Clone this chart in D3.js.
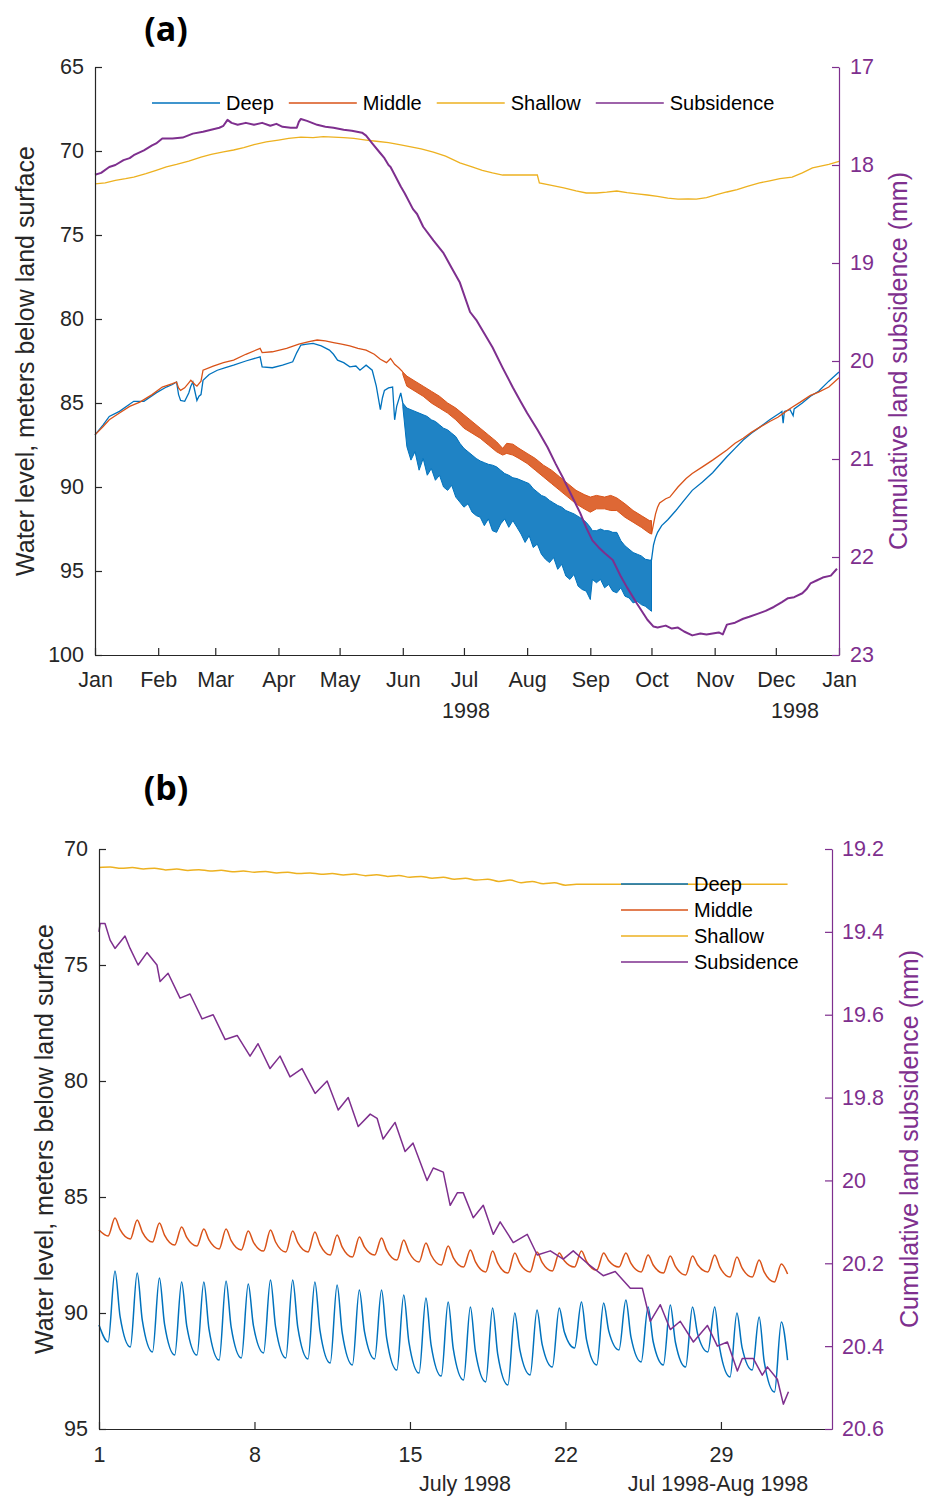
<!DOCTYPE html>
<html>
<head>
<meta charset="utf-8">
<script src="https://cdn.jsdelivr.net/npm/d3@7"></script>
<style>
  html, body { margin: 0; padding: 0; background: #fff; }
  svg text { font-family: "Liberation Sans", Arial, Helvetica, sans-serif; }
</style>
</head>
<body>
<div id="chart"></div>
<script>
"use strict";

// ---- series ----
var seriesNames = ["Deep", "Middle", "Shallow", "Subsidence"];
var seriesColors = ["#0072BD", "#D95319", "#EDB120", "#7E2F8E"];

// ---- panel (a): whole of 1998, x = day of year (0 = Jan 1) ----
var leftTicksA = [65, 70, 75, 80, 85, 90, 95, 100];
var rightTicksA = [17, 18, 19, 20, 21, 22, 23];

var deepPreA = [[0,86.9],[4,86.3],[7,85.8],[12,85.5],[19,84.9],[24,84.9],[30,84.4],[35,84.05],[38,83.9],[40,83.75],[41,84.5],[42,84.85],[44,84.9],[46,84.4],[47,84.0],[48,83.75],[49,84.3],[50,84.85],[51,84.6],[52,84.5],[53,83.65],[56,83.3],[60,83.05],[64,82.9],[68,82.75],[74,82.5],[81,82.25],[82,82.85],[87,82.9],[92,82.75],[97,82.55],[99,82.0],[101,81.55],[104,81.5],[107,81.45],[111,81.6],[115,81.85],[117,82.1],[119,82.45],[122,82.6],[125,82.85],[128,82.8],[130,83.05],[133,82.75],[136,83.05],[138,84.0],[140,85.4],[141,84.7],[142,84.25],[144,84.1],[146,84.05],[147,86.0],[148,85.2],[150,84.4],[151,85.0]];
// daily swing band: [day, upper edge, lower edge]
var deepBandA = [[151,85.0,85.2],[153,85.3,87.6],[155,85.4,88.4],[157,85.5,87.9],[159,85.6,89.0],[161,85.7,88.3],[163,85.8,89.3],[165,86.0,88.9],[167,86.1,89.6],[169,86.3,89.3],[171,86.5,90.0],[173,86.6,90.2],[175,86.8,89.9],[177,87.0,90.6],[179,87.4,90.9],[181,87.7,91.2],[183,87.9,91.0],[185,88.1,91.5],[187,88.3,91.7],[189,88.45,91.8],[191,88.55,92.3],[193,88.65,91.9],[195,88.7,92.6],[197,88.8,92.7],[199,89.0,92.2],[201,89.2,91.9],[203,89.3,92.4],[205,89.45,92.0],[207,89.5,92.4],[209,89.6,92.8],[211,89.7,93.3],[213,89.8,92.9],[215,90.1,93.6],[217,90.3,93.4],[219,90.5,94.0],[221,90.6,94.3],[223,90.8,94.5],[225,90.95,94.2],[227,91.1,94.9],[229,91.2,94.6],[231,91.4,95.3],[233,91.5,95.5],[235,91.6,95.2],[237,91.75,95.9],[239,91.9,96.1],[241,92.1,96.2],[243,92.4,96.7],[244,92.6,95.5],[246,92.6,95.7],[248,92.5,95.5],[250,92.6,96.0],[252,92.6,95.8],[254,92.7,96.2],[256,92.7,96.3],[258,93.2,96.0],[260,93.5,96.5],[262,93.7,96.6],[264,93.9,96.9],[266,94.0,96.8],[268,94.1,97.0],[270,94.3,97.1],[272,94.35,97.3],[273,94.35,97.4]];
var deepPostA = [[273,94.35],[274,93.45],[275,93.0],[276,92.7],[278,92.3],[281,91.95],[285,91.4],[289,90.8],[293,90.2],[298,89.7],[303,89.15],[307,88.6],[310,88.2],[314,87.7],[318,87.2],[322,86.8],[326,86.45],[331,86.0],[336,85.6],[337,85.5],[337.6,86.2],[338.2,85.5],[341,85.4],[342.5,85.75],[343,85.35],[347,85.0],[351,84.6],[355,84.3],[360,83.7],[365,83.15]];

var middlePreA = [[0,86.9],[4,86.4],[7,86.0],[12,85.6],[17,85.2],[22,84.95],[28,84.5],[33,84.05],[38,83.85],[40,83.75],[41,84.1],[42,84.25],[44,84.1],[46,83.8],[47,83.65],[49,83.9],[50,84.0],[52,83.7],[53,83.05],[58,82.8],[63,82.6],[68,82.45],[74,82.1],[81,81.75],[82,82.0],[87,81.95],[94,81.75],[100,81.5],[105,81.35],[109,81.25],[113,81.3],[117,81.4],[121,81.5],[125,81.6],[129,81.75],[133,81.85],[137,82.1],[140,82.4],[143,82.6],[145,82.35],[147,82.7],[149,82.9],[151,83.15]];
var middleBandA = [[151,83.15,83.3],[153,83.4,84.0],[157,83.7,84.3],[161,84.0,84.6],[165,84.3,85.0],[169,84.6,85.3],[173,85.0,85.6],[177,85.3,86.0],[181,85.7,86.5],[185,86.1,86.8],[189,86.5,87.1],[193,86.9,87.5],[197,87.3,87.9],[200,87.7,88.1],[202,87.4,88.0],[205,87.45,88.1],[208,87.7,88.3],[212,88.0,88.6],[216,88.3,89.0],[220,88.7,89.4],[224,89.0,89.8],[228,89.4,90.2],[232,89.8,90.6],[236,90.2,91.0],[240,90.45,91.3],[243,90.6,91.5],[246,90.5,91.3],[250,90.6,91.3],[253,90.5,91.4],[256,90.65,91.4],[260,91.0,91.8],[264,91.4,92.1],[268,91.7,92.4],[272,92.0,92.75],[273,92.0,92.8]];
var middlePostA = [[273,92.8],[274,92.2],[275,91.6],[276,91.2],[277,90.95],[280,90.7],[282,90.6],[286,90.0],[290,89.5],[293,89.2],[298,88.8],[303,88.4],[310,87.8],[314,87.4],[318,87.1],[322,86.75],[326,86.45],[331,86.1],[335,85.85],[339,85.5],[342,85.25],[346,84.95],[351,84.55],[355,84.35],[360,84.05],[365,83.5]];

var shallowA = [[0,71.96],[5,71.9],[10,71.75],[15,71.65],[19,71.55],[25,71.35],[30,71.15],[35,70.95],[40,70.8],[46,70.6],[52,70.36],[57,70.2],[63,70.05],[68,69.94],[73,69.8],[78,69.62],[84,69.46],[90,69.35],[95,69.25],[101,69.17],[107,69.2],[112,69.15],[117,69.17],[122,69.2],[127,69.25],[133,69.35],[138,69.42],[144,69.5],[150,69.64],[155,69.75],[160,69.88],[166,70.06],[172,70.3],[179,70.71],[185,70.95],[190,71.15],[195,71.3],[200,71.43],[205,71.43],[210,71.43],[217,71.43],[218,71.9],[224,72.05],[230,72.2],[236,72.38],[241,72.5],[246,72.5],[251,72.45],[256,72.38],[261,72.48],[266,72.55],[271,72.62],[276,72.7],[281,72.8],[286,72.86],[291,72.85],[295,72.86],[300,72.78],[305,72.6],[310,72.44],[315,72.3],[320,72.1],[326,71.9],[331,71.78],[336,71.65],[342,71.55],[347,71.3],[352,71.01],[356,70.9],[360,70.8],[365,70.62]];

var subsidenceA = [[0,18.1],[3,18.08],[7,18.02],[10,18.0],[14,17.95],[17,17.93],[19,17.9],[24,17.85],[28,17.8],[30,17.78],[33,17.73],[38,17.73],[43,17.72],[48,17.68],[53,17.66],[57,17.64],[61,17.62],[63,17.6],[65,17.54],[67,17.57],[70,17.59],[74,17.57],[78,17.59],[82,17.57],[86,17.6],[89,17.58],[92,17.61],[96,17.62],[99,17.62],[100,17.56],[101,17.53],[104,17.55],[109,17.59],[113,17.61],[117,17.62],[122,17.64],[126,17.65],[131,17.67],[133,17.7],[136,17.78],[140,17.88],[142,17.93],[144,18.0],[145,18.02],[147,18.1],[150,18.22],[152,18.29],[156,18.45],[158,18.5],[161,18.63],[166,18.77],[171,18.9],[175,19.05],[179,19.2],[184,19.5],[187,19.58],[191,19.72],[195,19.86],[200,20.07],[205,20.27],[209,20.42],[212,20.53],[217,20.7],[222,20.88],[226,21.05],[230,21.21],[234,21.38],[238,21.55],[241,21.7],[244,21.83],[247,21.9],[250,21.96],[254,22.03],[258,22.2],[261,22.31],[266,22.48],[271,22.64],[274,22.71],[276,22.72],[280,22.7],[283,22.73],[286,22.72],[289,22.76],[293,22.8],[297,22.78],[300,22.79],[303,22.78],[306,22.77],[308,22.79],[310,22.69],[314,22.67],[318,22.63],[321,22.61],[325,22.58],[329,22.55],[333,22.51],[337,22.46],[340,22.42],[343,22.41],[347,22.37],[349,22.33],[351,22.27],[354,22.24],[357,22.21],[361,22.19],[364,22.12]];

// ---- panel (b): July 1998, x = day of month ----
var dayTicksB = [1, 8, 15, 22, 29];
var leftTicksB = [70, 75, 80, 85, 90, 95];
var rightTicksB = [19.2, 19.4, 19.6, 19.8, 20, 20.2, 20.4, 20.6];

// daily pumping cycle: low at ~10h, high at ~17h, recovering by ~23h
var cycleLowAt = 0.41, cycleHighAt = 0.72, cycleMidAt = 0.95;

var deepStartB = 90.52, deepEndB = 92.03;
var deepLowB = [91.25,91.47,91.68,91.81,91.81,92.03,91.94,91.72,91.94,91.98,92.16,92.24,91.98,92.46,92.59,92.72,92.89,92.97,93.10,92.67,92.33,91.51,92.24,91.59,92.11,92.24,92.33,91.68,92.76,92.46,93.41];
var deepHighB = [88.19,88.28,88.49,88.66,88.66,88.62,88.75,88.58,88.58,88.66,88.79,89.01,89.01,89.22,89.35,89.53,89.74,89.78,90.00,89.87,89.78,89.53,89.57,89.44,89.74,89.66,89.74,89.74,90.00,90.17,90.39];
var deepMidB = [90.16,90.32,90.48,90.55,90.68,90.61,90.53,90.60,90.62,90.76,90.86,90.79,91.08,91.24,91.37,91.55,91.68,91.77,91.60,91.35,90.82,91.16,90.78,91.04,91.24,91.26,90.90,91.55,91.48,92.11];

var middleStartB = 86.42, middleEndB = 88.32;
var middleLowB = [86.68,86.81,86.94,87.07,87.11,87.24,87.28,87.33,87.37,87.37,87.50,87.59,87.50,87.72,87.80,87.93,88.02,88.23,88.28,88.23,88.19,88.02,88.15,88.02,88.23,88.28,88.36,88.23,88.45,88.45,88.66];
var middleHighB = [85.91,85.99,86.12,86.29,86.38,86.38,86.47,86.42,86.47,86.51,86.64,86.72,86.77,86.85,86.98,87.11,87.28,87.33,87.41,87.37,87.41,87.33,87.41,87.41,87.50,87.54,87.54,87.50,87.59,87.72,87.89];
var middleMidB = [86.41,86.51,86.64,86.74,86.85,86.88,86.94,86.94,86.97,87.05,87.16,87.15,87.29,87.37,87.50,87.61,87.80,87.85,87.86,87.82,87.75,87.78,87.75,87.86,87.93,87.99,87.92,88.02,88.06,88.24];

// every half day from Jul 1 00h, then the logger goes flat
var shallowB = [70.80,70.78,70.83,70.80,70.86,70.83,70.90,70.86,70.93,70.89,70.95,70.92,70.98,70.95,71.00,70.97,71.03,71.00,71.06,71.03,71.09,71.06,71.12,71.08,71.15,71.11,71.18,71.14,71.22,71.18,71.26,71.22,71.30,71.26,71.34,71.30,71.40,71.34,71.45,71.40,71.50,71.46,71.56,71.52];
var shallowFlatB = [[22.5,71.52],[32,71.52]];

var subsidenceB = [[1.0,19.40],[1.05,19.38],[1.27,19.38],[1.5,19.42],[1.72,19.44],[2.17,19.41],[2.4,19.44],[2.76,19.48],[3.16,19.45],[3.61,19.48],[3.75,19.52],[4.11,19.50],[4.65,19.56],[5.1,19.55],[5.64,19.61],[6.14,19.60],[6.68,19.66],[7.22,19.65],[7.8,19.70],[8.16,19.67],[8.7,19.73],[9.15,19.70],[9.6,19.75],[10.14,19.73],[10.73,19.79],[11.27,19.76],[11.77,19.83],[12.22,19.80],[12.67,19.87],[13.21,19.84],[13.52,19.85],[13.79,19.90],[14.33,19.86],[14.78,19.93],[15.14,19.91],[15.77,20.00],[16.05,19.97],[16.5,19.98],[16.81,20.06],[17.13,20.03],[17.4,20.03],[17.85,20.09],[18.3,20.06],[18.75,20.13],[19.06,20.10],[19.65,20.15],[20.28,20.13],[20.73,20.18],[21.32,20.17],[21.9,20.19],[22.35,20.17],[22.98,20.20],[23.7,20.23],[24.24,20.22],[24.92,20.26],[25.46,20.26],[25.82,20.34],[26.27,20.30],[26.72,20.36],[27.17,20.34],[27.76,20.39],[28.39,20.35],[28.84,20.40],[29.29,20.39],[29.74,20.46],[29.96,20.43],[30.46,20.43],[30.86,20.47],[31.09,20.45],[31.54,20.48],[31.81,20.54],[32.04,20.51]];

// ---------------------------------------------------------------
var textColor = "#262626";
var purple = seriesColors[3];
var tickFont = 21.5;

var svg = d3.select("#chart").append("svg")
  .attr("width", 933)
  .attr("height", 1498)
  .style("background", "#fff");

var yearStart = Date.UTC(1998, 0, 1);
function dayDate(d) { return new Date(yearStart + d * 864e5); }

function cyclePoints(start, lows, highs, mids, end) {
  var pts = [[1, start]];
  lows.forEach(function(v, i) {
    var k = i + 1;
    pts.push([k + cycleLowAt, v]);
    pts.push([k + cycleHighAt, highs[i]]);
    if (i < mids.length) pts.push([k + cycleMidAt, mids[i]]);
  });
  pts.push([32, end]);
  return pts;
}

function styleAxis(g, color) {
  g.attr("font-size", tickFont)
    .attr("font-family", "\"Liberation Sans\", Arial, sans-serif");
  g.select(".domain").attr("stroke", color).attr("stroke-width", 1.2);
  g.selectAll(".tick line").attr("stroke", color).attr("stroke-width", 1.2);
  g.selectAll(".tick text").attr("fill", color);
}

function axisTitle(x, y, label, color) {
  svg.append("text")
    .attr("transform", "translate(" + x + "," + y + ") rotate(-90)")
    .attr("text-anchor", "middle")
    .attr("fill", color)
    .style("font-size", "25px")
    .text(label);
}

function panelTitle(x, y, label) {
  svg.append("text")
    .attr("x", x).attr("y", y)
    .attr("text-anchor", "middle")
    .attr("fill", "#000")
    .style("font-family", "\"Open Sans\", \"DejaVu Sans\", sans-serif")
    .style("font-weight", "bold")
    .style("font-size", "34px")
    .text(label);
}

function plainText(x, y, label) {
  svg.append("text")
    .attr("x", x).attr("y", y)
    .attr("text-anchor", "middle")
    .attr("fill", textColor)
    .style("font-size", tickFont + "px")
    .text(label);
}

// ================= panel (a) =================
var xA = d3.scaleUtc().domain([dayDate(0), dayDate(365)]).range([95, 839]);
var yLA = d3.scaleLinear().domain([65, 100]).range([67, 655]);
var yRA = d3.scaleLinear().domain([17, 23]).range([67, 655]);

var gA = svg.append("g");

var lineLA = d3.line().x(function(d) { return xA(dayDate(d[0])); }).y(function(d) { return yLA(d[1]); });
var lineRA = d3.line().x(function(d) { return xA(dayDate(d[0])); }).y(function(d) { return yRA(d[1]); });
var bandA = d3.area()
  .x(function(d) { return xA(dayDate(d[0])); })
  .y0(function(d) { return yLA(d[1]); })
  .y1(function(d) { return yLA(d[2]); });

[[deepPreA, deepBandA, deepPostA, 0], [middlePreA, middleBandA, middlePostA, 1]].forEach(function(s) {
  var c = seriesColors[s[3]];
  gA.append("path").attr("d", lineLA(s[0])).attr("fill", "none").attr("stroke", c).attr("stroke-width", 1.3);
  gA.append("path").attr("d", bandA(s[1])).attr("fill", c).attr("fill-opacity", 0.88)
    .attr("stroke", c).attr("stroke-width", 1).attr("stroke-linejoin", "round");
  gA.append("path").attr("d", lineLA(s[2])).attr("fill", "none").attr("stroke", c).attr("stroke-width", 1.3);
});
gA.append("path").attr("d", lineLA(shallowA)).attr("fill", "none")
  .attr("stroke", seriesColors[2]).attr("stroke-width", 1.3);
gA.append("path").attr("d", lineRA(subsidenceA)).attr("fill", "none")
  .attr("stroke", purple).attr("stroke-width", 2).attr("stroke-linejoin", "round");

gA.append("g").attr("transform", "translate(0,655)")
  .call(d3.axisBottom(xA).ticks(d3.utcMonth.every(1)).tickFormat(d3.utcFormat("%b"))
    .tickSize(-7).tickSizeOuter(0).tickPadding(17))
  .call(styleAxis, textColor);
gA.append("g").attr("transform", "translate(95,0)")
  .call(d3.axisLeft(yLA).tickValues(leftTicksA).tickSize(-7).tickSizeOuter(0).tickPadding(11))
  .call(styleAxis, textColor);
gA.append("g").attr("transform", "translate(839,0)")
  .call(d3.axisRight(yRA).tickValues(rightTicksA).tickFormat(d3.format("d"))
    .tickSize(-7).tickSizeOuter(0).tickPadding(11))
  .call(styleAxis, purple);

plainText(466, 718, "1998");
plainText(795, 718, "1998");
axisTitle(34, 361, "Water level, meters below land surface", textColor);
axisTitle(907, 361, "Cumulative land subsidence (mm)", purple);
panelTitle(166, 41, "(a)");

// horizontal legend
var legA = gA.append("g").attr("transform", "translate(0,103)");
var lx = 152;
seriesNames.forEach(function(name, i) {
  legA.append("line").attr("x1", lx).attr("x2", lx + 68)
    .attr("stroke", seriesColors[i]).attr("stroke-width", 1.5);
  var t = legA.append("text").attr("x", lx + 74).attr("dy", "0.35em")
    .attr("fill", "#000").style("font-size", "20px").text(name);
  lx += 74 + t.node().getComputedTextLength() + 15;
});

// ================= panel (b) =================
var xB = d3.scaleLinear().domain([1, 34]).range([99, 832]);
var yLB = d3.scaleLinear().domain([70, 95]).range([849, 1429]);
var yRB = d3.scaleLinear().domain([19.2, 20.6]).range([849, 1429]);

var gB = svg.append("g");

var smoothLB = d3.line().curve(d3.curveMonotoneX)
  .x(function(d) { return xB(d[0]); }).y(function(d) { return yLB(d[1]); });
var lineRB = d3.line()
  .x(function(d) { return xB(d[0]); }).y(function(d) { return yRB(d[1]); });

var deepB = cyclePoints(deepStartB, deepLowB, deepHighB, deepMidB, deepEndB);
var middleB = cyclePoints(middleStartB, middleLowB, middleHighB, middleMidB, middleEndB);
var shallowPtsB = shallowB.map(function(v, i) { return [1 + i * 0.5, v]; }).concat(shallowFlatB);

gB.append("path").attr("d", smoothLB(deepB)).attr("fill", "none")
  .attr("stroke", seriesColors[0]).attr("stroke-width", 1.5);
gB.append("path").attr("d", smoothLB(middleB)).attr("fill", "none")
  .attr("stroke", seriesColors[1]).attr("stroke-width", 1.5);
gB.append("path").attr("d", smoothLB(shallowPtsB)).attr("fill", "none")
  .attr("stroke", seriesColors[2]).attr("stroke-width", 1.5);
gB.append("path").attr("d", lineRB(subsidenceB)).attr("fill", "none")
  .attr("stroke", purple).attr("stroke-width", 1.5).attr("stroke-linejoin", "round");

gB.append("g").attr("transform", "translate(0,1429)")
  .call(d3.axisBottom(xB).tickValues(dayTicksB).tickFormat(d3.format("d"))
    .tickSize(-7).tickSizeOuter(0).tickPadding(18))
  .call(styleAxis, textColor);
gB.append("g").attr("transform", "translate(99,0)")
  .call(d3.axisLeft(yLB).tickValues(leftTicksB).tickSize(-7).tickSizeOuter(0).tickPadding(11))
  .call(styleAxis, textColor);
gB.append("g").attr("transform", "translate(832,0)")
  .call(d3.axisRight(yRB).tickValues(rightTicksB).tickFormat(function(d) { return String(+d.toFixed(1)); })
    .tickSize(-7).tickSizeOuter(0).tickPadding(10))
  .call(styleAxis, purple);

plainText(465, 1491, "July 1998");
plainText(718, 1491, "Jul 1998-Aug 1998");
axisTitle(53, 1139, "Water level, meters below land surface", textColor);
axisTitle(918, 1139, "Cumulative land subsidence (mm)", purple);
panelTitle(166, 800, "(b)");

// stacked legend
var legB = gB.append("g");
seriesNames.forEach(function(name, i) {
  var y = 884 + i * 26;
  legB.append("line").attr("x1", 621).attr("x2", 688).attr("y1", y).attr("y2", y)
    .attr("stroke", seriesColors[i]).attr("stroke-width", 1.5);
  legB.append("text").attr("x", 694).attr("y", y).attr("dy", "0.35em")
    .attr("fill", "#000").style("font-size", "20px").text(name);
});
</script>
</body>
</html>
